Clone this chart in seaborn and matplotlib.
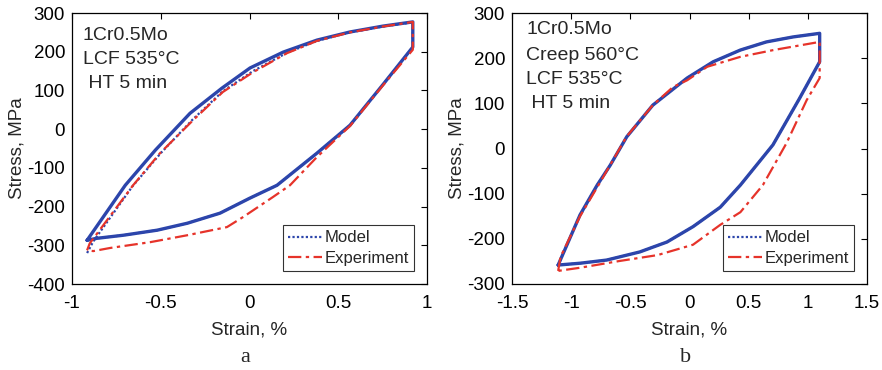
import numpy as np
import pandas as pd
import matplotlib
matplotlib.use("Agg")
import matplotlib.pyplot as plt
import seaborn as sns

sns.set_theme(style="white")
plt.rcParams['font.family'] = ['Liberation Sans', 'DejaVu Sans']
plt.rcParams['axes.unicode_minus'] = False

# ---------------- Panel a data ----------------
a_fit_strain = [-0.915, -0.70, -0.53, -0.335, -0.155, 0.003, 0.19, 0.38, 0.566, 0.75, 0.92,
                0.92, 0.75, 0.566, 0.38, 0.155, 0.003, -0.166, -0.35, -0.52, -0.71, -0.86, -0.915]
a_fit_stress = [-287, -145, -54, 41, 106, 158, 199, 230, 251, 266, 277,
                212, 114, 10, -62, -145, -178, -217, -243, -261, -274, -282, -287]

a_model_strain = [-0.915, -0.88, -0.66, -0.50, -0.32, -0.15, 0.02, 0.21, 0.38, 0.566, 0.75, 0.92,
                  0.92, 0.75, 0.566, 0.38, 0.155, 0.003, -0.166, -0.35, -0.52, -0.71, -0.86, -0.915]
a_model_stress = [-320, -290, -148, -62, 25, 98, 150, 197, 228, 250, 265, 276,
                  212, 114, 10, -62, -145, -178, -217, -243, -261, -274, -282, -287]

a_exp_strain = [-0.915, -0.90, -0.656, -0.504, -0.318, -0.15, 0.02, 0.21, 0.38, 0.566, 0.75, 0.92,
                0.92, 0.75, 0.566, 0.38, 0.228, 0.13, -0.036, -0.127, -0.35, -0.56, -0.786, -0.88, -0.915]
a_exp_stress = [-313, -295, -145, -62, 23, 96, 147, 196, 228, 250, 265, 277,
                205, 112, 8, -72, -145, -176, -227, -253, -274, -292, -307, -315, -313]

# ---------------- Panel b data ----------------
b_fit_strain = [-1.11, -0.925, -0.78, -0.67, -0.53, -0.31, -0.02, 0.20, 0.43, 0.65, 0.875, 1.10,
                1.10, 0.93, 0.705, 0.43, 0.26, 0.03, -0.19, -0.42, -0.70, -0.925, -1.11]
b_fit_stress = [-258, -147, -81, -37, 26, 96, 156, 192, 218, 236, 247, 255,
                192, 111, 8, -81, -130, -173, -207, -229, -247, -254, -258]

b_exp_strain = [-1.11, -1.09, -0.925, -0.76, -0.53, -0.31, -0.14, -0.02, 0.15, 0.43, 0.71, 1.10,
                1.10, 0.99, 0.82, 0.62, 0.43, 0.26, 0.03, -0.27, -0.59, -0.925, -1.11]
b_exp_stress = [-271, -240, -150, -77, 27, 96, 136, 151, 181, 203, 218, 236,
                156, 107, 12, -81, -141, -169, -213, -236, -249, -264, -271]

a_notes = ["1Cr0.5Mo", "LCF 535°C", " HT 5 min"]
b_notes = ["1Cr0.5Mo", "Creep 560°C", "LCF 535°C", " HT 5 min"]

BLUE = "#2c45ab"
RED = "#e6332a"

fig = plt.figure(figsize=(8.82, 3.70), dpi=100)
W, H = 882, 370
axA = fig.add_axes([72 / W, 1 - 284 / H, (427 - 72) / W, (284 - 13) / H])
axB = fig.add_axes([512 / W, 1 - 284 / H, (867 - 512) / W, (284 - 13) / H])


def draw(ax, fx, fy, mx, my, ex, ey):
    sns.lineplot(x=fx, y=fy, ax=ax, sort=False, color=BLUE, lw=2.4, estimator=None)
    sns.lineplot(x=mx, y=my, ax=ax, sort=False, color=BLUE, lw=1.6, estimator=None,
                 linestyle=(0, (1, 1)), label="Model")
    sns.lineplot(x=ex, y=ey, ax=ax, sort=False, color=RED, lw=1.6, estimator=None,
                 linestyle=(0, (6, 2, 1.5, 2)), label="Experiment")


draw(axA, a_fit_strain, a_fit_stress, a_model_strain, a_model_stress, a_exp_strain, a_exp_stress)
draw(axB, b_fit_strain, b_fit_stress, b_fit_strain, b_fit_stress, b_exp_strain, b_exp_stress)

axA.set_xlim(-1, 1)
axA.set_ylim(-400, 300)
axA.set_xticks([-1, -0.5, 0, 0.5, 1])
axA.set_xticklabels(["-1", "-0.5", "0", "0.5", "1"])
axA.set_yticks(range(-400, 301, 100))

axB.set_xlim(-1.5, 1.5)
axB.set_ylim(-300, 300)
axB.set_xticks([-1.5, -1, -0.5, 0, 0.5, 1, 1.5])
axB.set_xticklabels(["-1.5", "-1", "-0.5", "0", "0.5", "1", "1.5"])
axB.set_yticks(range(-300, 301, 100))

for ax in (axA, axB):
    ax.set_xlabel("Strain, %", fontsize=13.5, labelpad=7)
    ax.set_ylabel("Stress, MPa", fontsize=13.5, labelpad=1)
    ax.tick_params(axis="both", direction="in", length=4, width=0.8, top=True, right=True,
                   labelsize=13.5, colors="black")
    ax.tick_params(axis="x", pad=8)
    ax.tick_params(axis="y", pad=5)
    for s in ax.spines.values():
        s.set_color("black")
        s.set_linewidth(0.9)
    leg = ax.legend(loc="lower right", fontsize=12, frameon=True, fancybox=False,
                    edgecolor="black", handlelength=2.0, borderpad=0.3,
                    labelspacing=0.32, handletextpad=0.15, borderaxespad=0.8)
    leg.get_frame().set_linewidth(0.8)

fig.text(245 / W, 1 - 358 / H, "a", ha="center", va="center", fontsize=16,
         family="Liberation Serif")
fig.text(686 / W, 1 - 358 / H, "b", ha="center", va="center", fontsize=16,
         family="Liberation Serif")

for txt, ypx in zip(a_notes, [35, 60, 83]):
    fig.text(83 / W, 1 - ypx / H, txt, ha="left", va="center", fontsize=14)
for txt, ypx in zip(b_notes, [30, 55, 80, 103]):
    fig.text(526 / W, 1 - ypx / H, txt, ha="left", va="center", fontsize=14)

fig.savefig("out.png", dpi=100)
